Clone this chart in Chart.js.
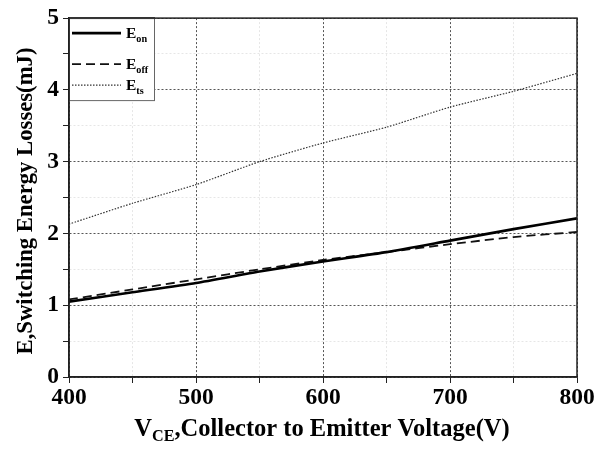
<!DOCTYPE html>
<html>
<head>
<meta charset="UTF-8">
<title>Switching Energy Losses</title>
<script src="https://cdn.jsdelivr.net/npm/chart.js"></script>
<style>
  body { margin: 0; background: #fff; }
  #wrap { width: 605px; height: 450px; }
</style>
</head>
<body>
<div id="wrap"><canvas id="chart" width="605" height="450"></canvas></div>
<script>
// data
const vce = [400, 450, 500, 550, 600, 650, 700, 750, 800];
const eOn = [1.05, 1.18, 1.31, 1.47, 1.61, 1.74, 1.90, 2.06, 2.21];
const eOff = [1.08, 1.22, 1.36, 1.50, 1.63, 1.74, 1.85, 1.95, 2.02];
const eTs = [2.13, 2.42, 2.68, 3.00, 3.26, 3.48, 3.76, 3.98, 4.23];

const xTickLabels = [400, 500, 600, 700, 800];
const yTickLabels = [0, 1, 2, 3, 4, 5];

const FONT = "'Liberation Serif', 'Times New Roman', serif";

function pts(ys) {
  return vce.map((x, i) => ({ x: x, y: ys[i] }));
}

// text with a subscript part, drawn at (x, y) baseline, left aligned
function drawSub(ctx, parts, x, y, size) {
  let cx = x;
  parts.forEach(p => {
    const s = p.sub ? size * 0.66 : size;
    ctx.font = "bold " + s + "px " + FONT;
    ctx.fillText(p.t, cx, p.sub ? y + size * 0.22 : y);
    cx += ctx.measureText(p.t).width;
  });
  return cx - x;
}
function subWidth(ctx, parts, size) {
  let w = 0;
  parts.forEach(p => {
    ctx.font = "bold " + (p.sub ? size * 0.66 : size) + "px " + FONT;
    w += ctx.measureText(p.t).width;
  });
  return w;
}

const extras = {
  id: "extras",
  afterDraw(chart) {
    const ctx = chart.ctx;
    const a = chart.chartArea;
    ctx.save();
    // frame
    ctx.strokeStyle = "#222";
    ctx.lineWidth = 1.5;
    ctx.strokeRect(a.left, a.top, a.right - a.left, a.bottom - a.top);

    // legend box
    const lx = a.left, ly = a.top, lw = 85, lh = 82;
    ctx.fillStyle = "#fff";
    ctx.fillRect(lx, ly, lw, lh);
    ctx.strokeStyle = "#666";
    ctx.lineWidth = 1;
    ctx.strokeRect(lx + 0.5, ly + 0.5, lw, lh);
    ctx.strokeStyle = "#222";
    ctx.lineWidth = 1.5;
    ctx.beginPath();
    ctx.moveTo(a.left, a.top + lh + 1);
    ctx.lineTo(a.left, a.top);
    ctx.lineTo(a.left + lw + 1, a.top);
    ctx.stroke();
    const items = [
      { ds: 0, y: ly + 15, parts: [{ t: "E" }, { t: "on", sub: true }] },
      { ds: 1, y: ly + 46, parts: [{ t: "E" }, { t: "off", sub: true }] },
      { ds: 2, y: ly + 67, parts: [{ t: "E" }, { t: "ts", sub: true }] }
    ];
    items.forEach(it => {
      const ds = chart.data.datasets[it.ds];
      ctx.beginPath();
      ctx.setLineDash(ds.borderDash || []);
      ctx.strokeStyle = ds.borderColor;
      ctx.lineWidth = ds.borderWidth;
      ctx.moveTo(lx + 3, it.y);
      ctx.lineTo(lx + 52, it.y);
      ctx.stroke();
      ctx.setLineDash([]);
      ctx.fillStyle = "#000";
      ctx.textBaseline = "alphabetic";
      ctx.textAlign = "left";
      drawSub(ctx, it.parts, lx + 57, it.y + 5, 15.5);
    });

    // x axis title
    ctx.fillStyle = "#000";
    const xt = [{ t: "V" }, { t: "CE", sub: true }, { t: ",Collector to Emitter Voltage(V)" }];
    const xw = subWidth(ctx, xt, 24.5);
    drawSub(ctx, xt, 322 - xw / 2, 436, 24.5);

    // y axis title
    ctx.translate(32, 201);
    ctx.rotate(-Math.PI / 2);
    ctx.font = "bold 22.7px " + FONT;
    ctx.textAlign = "center";
    ctx.fillText("E,Switching Energy Losses(mJ)", 0, 0);
    ctx.restore();
  }
};

const majorGrid = "#555";
const minorGrid = "#e6e6e6";

new Chart(document.getElementById("chart"), {
  type: "line",
  data: {
    datasets: [
      { label: "Eon", data: pts(eOn), borderColor: "#000", borderWidth: 2.6, pointRadius: 0, tension: 0.2 },
      { label: "Eoff", data: pts(eOff), borderColor: "#111", borderWidth: 1.8, borderDash: [9, 5], pointRadius: 0, tension: 0.2 },
      { label: "Ets", data: pts(eTs), borderColor: "#333", borderWidth: 1.2, borderDash: [1.5, 1.5], pointRadius: 0, tension: 0.2 }
    ]
  },
  options: {
    responsive: false,
    animation: false,
    layout: { padding: { top: 15, right: 28, left: 0, bottom: 0 } },
    plugins: { legend: { display: false }, tooltip: { enabled: false } },
    scales: {
      x: {
        type: "linear",
        min: 400, max: 800,
        afterFit: s => { s.height = 73; },
        ticks: {
          stepSize: 50,
          color: "#000",
          font: { family: FONT, size: 23.5, weight: "bold" },
          padding: 1,
          maxRotation: 0,
          callback: v => xTickLabels.includes(v) ? String(v) : ""
        },
        grid: {
          color: c => (c.tick && c.tick.value % 100 === 0) ? majorGrid : minorGrid,
          tickColor: "#222",
          tickLength: 6,
          lineWidth: 1
        },
        border: { display: true, color: "#222", width: 1.5, dash: [2, 2] }
      },
      y: {
        min: 0, max: 5,
        afterFit: s => { s.width = 69; },
        ticks: {
          stepSize: 0.5,
          color: "#000",
          font: { family: FONT, size: 23.5, weight: "bold" },
          padding: 4,
          callback: v => yTickLabels.includes(v) ? String(v) : ""
        },
        grid: {
          color: c => (c.tick && Number.isInteger(c.tick.value)) ? majorGrid : minorGrid,
          tickColor: "#222",
          tickLength: 6,
          lineWidth: 1
        },
        border: { display: true, color: "#222", width: 1.5, dash: [2, 2] }
      }
    }
  },
  plugins: [extras]
});
</script>
</body>
</html>
